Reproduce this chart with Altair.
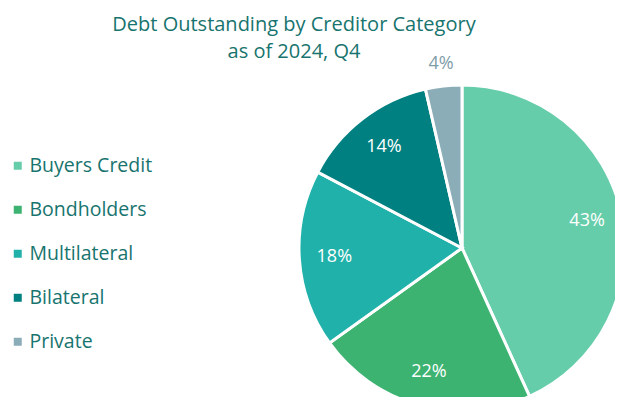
import altair as alt
import pandas as pd

categories = ["Buyers Credit", "Bondholders", "Multilateral", "Bilateral", "Private"]
shares = [43.2, 21.9, 17.6, 13.7, 3.6]
labels = ["43%", "22%", "18%", "14%", "4%"]
colors = ["#66CDAA", "#3CB371", "#20B2AA", "#008080", "#8AADB8"]
title_lines = ["Debt Outstanding by Creditor Category", "as of 2024, Q4"]

df = pd.DataFrame({
    "Category": categories,
    "Share": shares,
    "Label": labels,
    "Order": list(range(len(categories))),
})

FONT = "Open Sans"
TEAL = "#17746E"
CX, CY, R = 454, 240, 163

base = alt.Chart(df).encode(
    theta=alt.Theta("Share:Q", stack=True),
    order=alt.Order("Order:Q", sort="ascending"),
)

pie = base.mark_arc(outerRadius=R, stroke="white", strokeWidth=3).encode(
    x=alt.value(CX), y=alt.value(CY),
    color=alt.Color(
        "Category:N",
        scale=alt.Scale(domain=categories, range=colors),
        sort=categories,
        legend=alt.Legend(
            title=None, orient="none", legendX=0, legendY=148,
            symbolType="square", symbolSize=64, symbolStrokeWidth=0,
            labelFont=FONT, labelFontSize=19.5, labelColor=TEAL,
            rowPadding=23, labelOffset=2,
        ),
    ),
)

inner = base.mark_text(radius=128, font=FONT, fontSize=18, color="white").encode(
    x=alt.value(CX), y=alt.value(CY),
    text=alt.condition(alt.datum.Category != "Private", "Label:N", alt.value("")),
)

outer = base.mark_text(radius=185, font=FONT, fontSize=18, color="#7F9EA8").encode(
    x=alt.value(CX), y=alt.value(CY),
    text=alt.condition(alt.datum.Category == "Private", "Label:N", alt.value("")),
)

title_df = pd.DataFrame({"line": title_lines, "idx": [0, 1]})
title = alt.Chart(title_df).mark_text(
    font=FONT, fontSize=20, color=TEAL, align="center", baseline="alphabetic"
).encode(
    x=alt.value(286),
    y=alt.Y("idx:Q", scale=alt.Scale(domain=[0, 1], range=[23, 50]), axis=None),
    text="line:N",
)

chart = alt.layer(pie, inner, outer, title).properties(
    width=607, height=389, padding=0,
    autosize=alt.AutoSizeParams(type="none"),
).configure_view(stroke=None)

chart.save("out.html", embed_options={"renderer": "svg", "actions": False})
